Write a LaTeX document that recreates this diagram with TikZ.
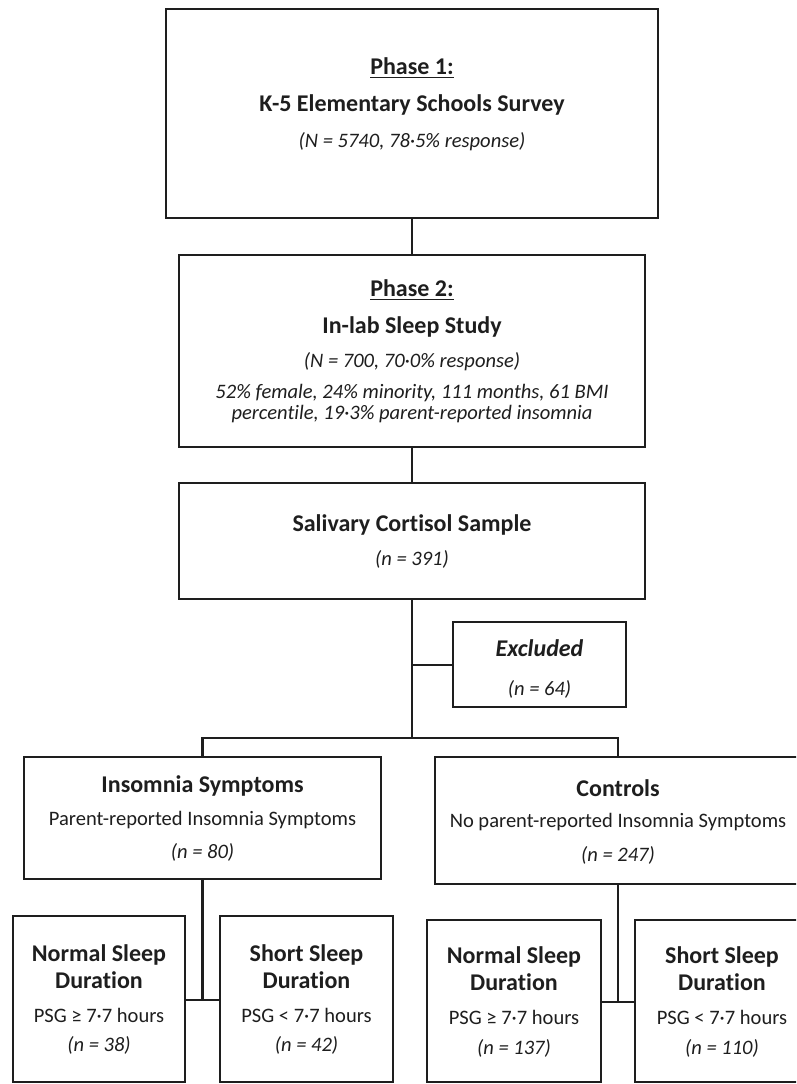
\documentclass[tikz,border=0pt]{standalone}
\usepackage{fontspec}
\setmainfont{Carlito}[Ligatures={NoCommon,NoRare,NoContextual}]
\usetikzlibrary{fit}
\definecolor{ink}{HTML}{1E1E1E}
\tikzset{
  box/.style={draw=ink, line width=1.6pt, inner sep=0pt, fill=white},
  conn/.style={draw=ink, line width=1.6pt},
  ttl/.style={text=ink, font=\fontsize{18}{21}\selectfont\bfseries, inner sep=0pt},
  sub/.style={text=ink, font=\fontsize{15.4}{18}\selectfont, inner sep=0pt},
  num/.style={text=ink, font=\fontsize{15.4}{18}\selectfont\itshape, inner sep=0pt},
}
\begin{document}
\begin{tikzpicture}[x=0.75pt,y=-0.75pt]
\path[use as bounding box, clip] (0,0) rectangle (796,1084);
\fill[white] (0,0) rectangle (796,1084);
% boxes
\node[box, fit={(166,9) (658,218)}] (b1) {};
\node[box, fit={(179,255) (645,447)}] (b2) {};
\node[box, fit={(179,483) (645,599)}] (b3) {};
\node[box, fit={(453,622) (626,707)}] (ex) {};
\node[box, fit={(24,757) (381,879)}] (ins) {};
\node[box, fit={(435,757) (801,884)}] (con) {};
\node[box, fit={(13,916) (185,1082)}] (n1) {};
\node[box, fit={(220,916) (393,1082)}] (s1) {};
\node[box, fit={(427,920) (601,1082)}] (n2) {};
\node[box, fit={(635,920) (809,1082)}] (s2) {};
% connectors
\coordinate (bus) at (412,738);
\coordinate (exj) at (412,665);
\coordinate (j1) at (202.5,1000);
\coordinate (j2) at (618,1002);
\draw[conn] (b1.south) -- (b2.north);
\draw[conn] (b2.south) -- (b3.north);
\draw[conn] (b3.south) -- (bus);
\draw[conn] (exj) -- (ex.west |- exj);
\draw[conn] (ins.north) |- (bus) -| (con.north);
\draw[conn] (ins.south) -- (j1);
\draw[conn] (n1.east |- j1) -- (s1.west |- j1);
\draw[conn] (con.south) -- (j2);
\draw[conn] (n2.east |- j2) -- (s2.west |- j2);
% texts box 1
\node[ttl] (t1a) at (412,68) {\underline{Phase 1:}};
\node[ttl] (t1b) at (412,105) {K-5 Elementary Schools Survey};
\node[num] (t1c) at (412,142) {(N = 5740, 78·5\% response)};
% box 2
\node[ttl] (t2a) at (412,290) {\underline{Phase 2:}};
\node[ttl] (t2b) at (412,327) {In-lab Sleep Study};
\node[num] (t2c) at (412,362) {(N = 700, 70·0\% response)};
\node[num] (t2d) at (412,393) {52\% female, 24\% minority, 111 months, 61 BMI};
\node[num] (t2e) at (412,414) {percentile, 19·3\% parent-reported insomnia};
% box 3
\node[ttl] (t3a) at (412,525) {Salivary Cortisol Sample};
\node[num] (t3b) at (412,559) {(n = 391)};
% excluded
\node[ttl, font=\fontsize{18}{21}\selectfont\bfseries\itshape] (tea) at (539.5,648) {Excluded};
\node[num] (teb) at (539.5,689) {(n = 64)};
% insomnia
\node[ttl] (tia) at (202.5,786) {Insomnia Symptoms};
\node[sub] (tib) at (202.5,820) {Parent-reported Insomnia Symptoms};
\node[num] (tic) at (202.5,852) {(n = 80)};
% controls
\node[ttl] (tca) at (618,788) {Controls};
\node[sub] (tcb) at (618,822) {No parent-reported Insomnia Symptoms};
\node[num] (tcc) at (618,855) {(n = 247)};
% n1
\node[ttl] (tn1a) at (99,955) {Normal Sleep};
\node[ttl] (tn1b) at (99,980) {Duration};
\node[sub] (tn1c) at (99,1015) {PSG ≥ 7·7 hours};
\node[num] (tn1d) at (99,1045) {(n = 38)};
% s1
\node[ttl] (ts1a) at (306.5,955) {Short Sleep};
\node[ttl] (ts1b) at (306.5,980) {Duration};
\node[sub] (ts1c) at (306.5,1015) {PSG < 7·7 hours};
\node[num] (ts1d) at (306.5,1045) {(n = 42)};
% n2
\node[ttl] (tn2a) at (514,957) {Normal Sleep};
\node[ttl] (tn2b) at (514,982) {Duration};
\node[sub] (tn2c) at (514,1017) {PSG ≥ 7·7 hours};
\node[num] (tn2d) at (514,1048) {(n = 137)};
% s2
\node[ttl] (ts2a) at (722,957) {Short Sleep};
\node[ttl] (ts2b) at (722,982) {Duration};
\node[sub] (ts2c) at (722,1017) {PSG < 7·7 hours};
\node[num] (ts2d) at (722,1048) {(n = 110)};
\end{tikzpicture}
\end{document}
